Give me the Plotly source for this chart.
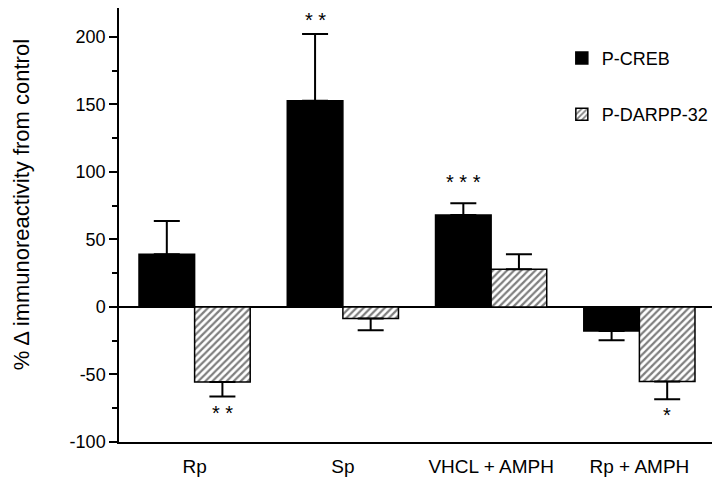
import plotly.graph_objects as go

categories = ["Rp", "Sp", "VHCL + AMPH", "Rp + AMPH"]
creb_values = [39, 152.6, 68, -17.8]
creb_errors = [24.7, 49.4, 8.7, 6.9]
darpp_values = [-55.5, -8.6, 27.9, -55.3]
darpp_errors = [10.9, 8.7, 11.1, 13.1]
creb_stars = ["", "* *", "* * *", ""]
darpp_stars = ["* *", "", "", "*"]
y_ticks = [-100, -50, 0, 50, 100, 150, 200]
y_tick_labels = ["-100", "-50", "0", "50", "100", "150", "200"]

FONT = "Liberation Sans, Arial, Helvetica, sans-serif"
Y_MIN, Y_MAX = -100, 221.3
FIG_H, M_B = 476, 42
PLOT_H = FIG_H - M_B


def split_err(vals, errs):
    up = [e if v >= 0 else 0 for v, e in zip(vals, errs)]
    down = [e if v < 0 else 0 for v, e in zip(vals, errs)]
    return up, down


cu, cd = split_err(creb_values, creb_errors)
du, dd = split_err(darpp_values, darpp_errors)

fig = go.Figure()
fig.add_trace(go.Bar(
    x=categories, y=creb_values, name="P-CREB", legendgroup="a",
    marker=dict(color="black", line=dict(color="black", width=1.5)),
    error_y=dict(type="data", symmetric=False, array=cu, arrayminus=cd,
                 color="black", thickness=2, width=13),
))
fig.add_trace(go.Bar(
    x=categories, y=darpp_values, name="P-DARPP-32", legendgroup="b",
    marker=dict(color="white", line=dict(color="black", width=1.5),
                pattern=dict(shape="/", fgcolor="black", bgcolor="white",
                             size=5, solidity=0.45)),
    error_y=dict(type="data", symmetric=False, array=du, arrayminus=dd,
                 color="black", thickness=2, width=13),
))


def star_shift(v, up):
    if not up:
        return -16
    pix = (Y_MAX - v) / (Y_MAX - Y_MIN) * PLOT_H
    return min(21, pix - 12)


# significance stars
for vals, u, d, stars, xs in ((creb_values, cu, cd, creb_stars, -27.7),
                              (darpp_values, du, dd, darpp_stars, 27.7)):
    for i, cat in enumerate(categories):
        if stars[i]:
            up = vals[i] >= 0
            v = vals[i] + u[i] if up else vals[i] - d[i]
            fig.add_annotation(x=cat, y=v, text=stars[i], showarrow=False,
                               xshift=xs, yshift=star_shift(v, up),
                               font=dict(family=FONT, size=20, color="black"))

fig.add_annotation(text="% \u0394 immunoreactivity from control", xref="paper", yref="paper",
                   x=-0.164, y=0.546, textangle=-90, showarrow=False,
                   xanchor="center", yanchor="middle",
                   font=dict(family=FONT, size=22, color="black"))

fig.update_layout(
    width=712, height=FIG_H,
    margin=dict(l=111, r=5, t=0, b=M_B),
    paper_bgcolor="white", plot_bgcolor="white",
    barmode="group", bargap=0.25, bargroupgap=0,
    font=dict(family=FONT, size=18, color="black"),
    legend=dict(x=0.743, y=0.927, xanchor="left", yanchor="top",
                font=dict(family=FONT, size=18), tracegroupgap=30,
                itemwidth=30, bgcolor="rgba(0,0,0,0)"),
    showlegend=True,
)
fig.update_xaxes(type="category", range=[-0.51, 3.51], showline=True, linecolor="black",
                 linewidth=1.5, ticks="", showgrid=False, zeroline=False,
                 ticklabelstandoff=6,
                 tickfont=dict(family=FONT, size=19))
fig.update_yaxes(range=[Y_MIN, Y_MAX], tickvals=y_ticks, ticktext=y_tick_labels,
                 showline=True, linecolor="black",
                 linewidth=1.5, ticks="outside", ticklen=8, tickwidth=1.5, tickcolor="black",
                 minor=dict(dtick=25, ticks="outside", ticklen=5, tickwidth=1.5, tickcolor="black"),
                 showgrid=False, zeroline=True, zerolinecolor="black", zerolinewidth=1.5,
                 tickfont=dict(family=FONT, size=18))

fig.write_html("out.html")
